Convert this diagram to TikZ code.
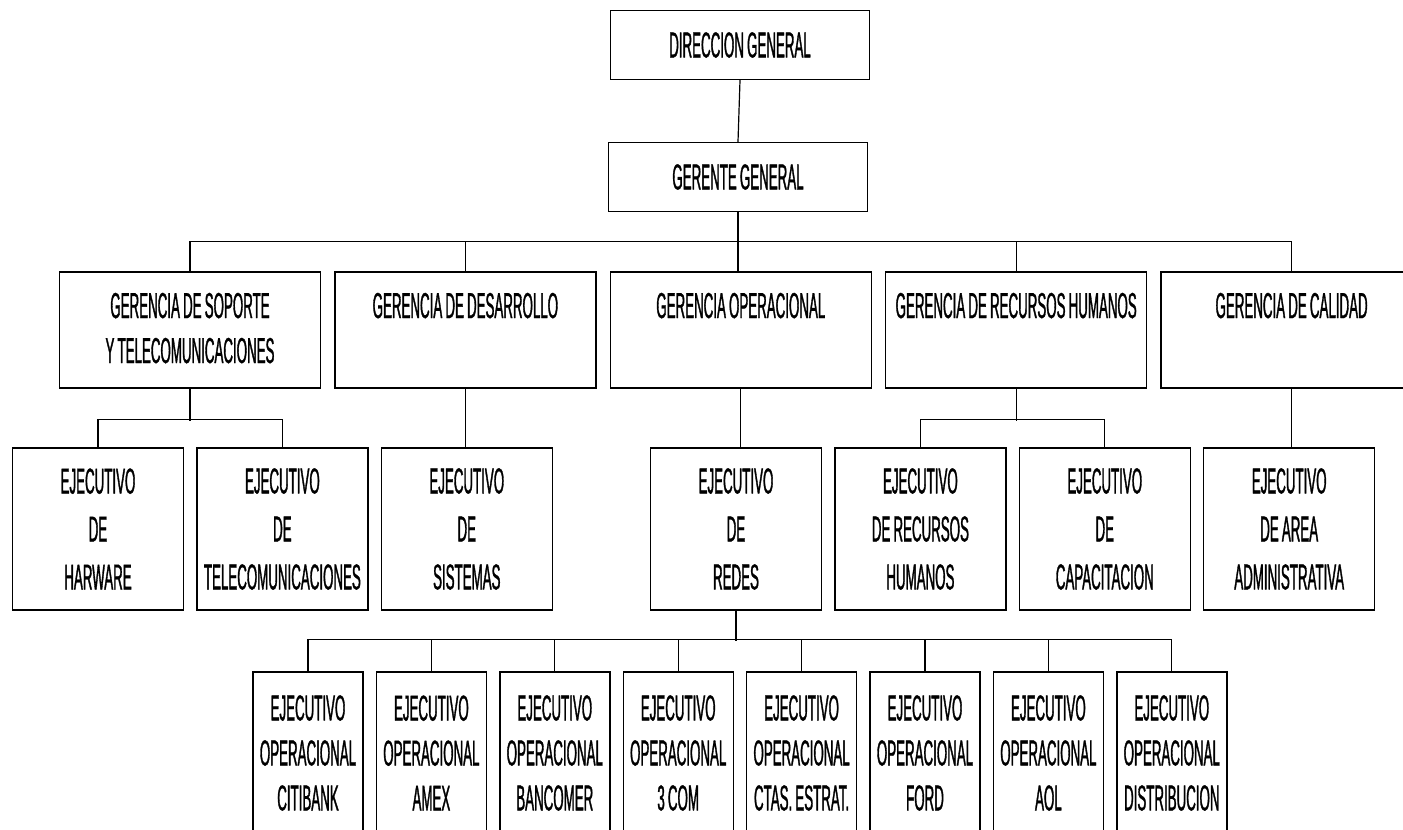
\documentclass[tikz,border=0pt]{standalone}
\usepackage{fontspec}
\setmainfont{Liberation Sans}[FakeStretch=0.37, FakeBold=0.9, WordSpace=0.85]
\usepackage{tikz}
\usetikzlibrary{positioning}
\tikzset{
  topbox/.style ={draw, rectangle, line width=1.4pt, minimum width=259pt, minimum height=69pt, inner sep=0pt, align=center, font=\fontsize{36}{45}\selectfont},
  gerbox/.style ={draw, rectangle, line width=1.4pt, minimum width=261pt, text width=258pt, inner xsep=1.5pt, inner ysep=0pt, text height=46pt, text depth=70pt, align=flush center, font=\fontsize{36}{45}\selectfont},
  ejebox/.style ={draw, rectangle, line width=1.4pt, minimum width=171pt, minimum height=162pt, inner sep=0pt, align=center, font=\fontsize{36}{48}\selectfont},
  opbox/.style  ={draw, rectangle, line width=1.4pt, minimum width=110pt, minimum height=162pt, inner sep=0pt, align=center, font=\fontsize{36}{45}\selectfont},
  conn/.style   ={line width=1.2pt},
}
\begin{document}
\begin{tikzpicture}[x=1pt, y=-1pt, node distance=12pt]
  \useasboundingbox (0,0) rectangle (1403,830);
  \clip (0,0) rectangle (1403,830);

  % direccion y gerente
  \node[topbox] (dir) at (740,45)  {DIRECCION GENERAL};
  \node[topbox] (gg)  at (738,177) {GERENTE GENERAL};

  % gerencias
  \node[gerbox] (g1) at (190,330) {GERENCIA DE SOPORTE\\Y TELECOMUNICACIONES};
  \node[gerbox, right=13pt of g1] (g2) {GERENCIA DE DESARROLLO};
  \node[gerbox, right=13pt of g2] (g3) {GERENCIA OPERACIONAL};
  \node[gerbox, right=13pt of g3] (g4) {GERENCIA DE RECURSOS HUMANOS};
  \node[gerbox, right=13pt of g4] (g5) {GERENCIA DE CALIDAD};

  % ejecutivos
  \node[ejebox] (e1) at (98,529) {EJECUTIVO\\DE\\HARWARE};
  \node[ejebox, right=of e1] (e2) {EJECUTIVO\\DE\\TELECOMUNICACIONES};
  \node[ejebox, right=of e2] (e3) {EJECUTIVO\\DE\\SISTEMAS};
  \node[ejebox] (e4) at (736,529) {EJECUTIVO\\DE\\REDES};
  \node[ejebox, right=of e4] (e5) {EJECUTIVO\\DE RECURSOS\\HUMANOS};
  \node[ejebox, right=of e5] (e6) {EJECUTIVO\\DE\\CAPACITACION};
  \node[ejebox, right=of e6] (e7) {EJECUTIVO\\DE AREA\\ADMINISTRATIVA};

  % ejecutivos operacionales
  \node[opbox] (o1) at (308,753) {EJECUTIVO\\OPERACIONAL\\CITIBANK};
  \node[opbox, right=of o1] (o2) {EJECUTIVO\\OPERACIONAL\\AMEX};
  \node[opbox, right=of o2] (o3) {EJECUTIVO\\OPERACIONAL\\BANCOMER};
  \node[opbox, right=of o3] (o4) {EJECUTIVO\\OPERACIONAL\\3 COM};
  \node[opbox, right=of o4] (o5) {EJECUTIVO\\OPERACIONAL\\CTAS. ESTRAT.};
  \node[opbox, right=of o5] (o6) {EJECUTIVO\\OPERACIONAL\\FORD};
  \node[opbox, right=of o6] (o7) {EJECUTIVO\\OPERACIONAL\\AOL};
  \node[opbox, right=of o7] (o8) {EJECUTIVO\\OPERACIONAL\\DISTRIBUCION};

  \draw[conn] (dir.south) -- (gg.north);
  \draw[conn] (gg.south) -- (gg.south |- g3.north);
  \draw[conn] (g1.north) -- ++(0,-30) -| (g5.north);
  \draw[conn] (g2.north) -- ++(0,-30);
  \draw[conn] (g4.north) -- ++(0,-30);

  \draw[conn] (g1.south) -- ++(0,32);
  \draw[conn] (e1.north) -- ++(0,-28) -| (e2.north);
  \draw[conn] (g2.south) -- (g2.south |- e3.north);
  \draw[conn] (e4.north -| g3.south) -- (g3.south);
  \draw[conn] (g4.south) -- ++(0,32);
  \draw[conn] (e5.north) -- ++(0,-28) -| (e6.north);
  \draw[conn] (g5.south) -- (g5.south |- e7.north);

  \draw[conn] (e4.south) -- ++(0,30);
  \draw[conn] (o1.north) -- ++(0,-32) -| (o8.north);
  \draw[conn] (o2.north) -- ++(0,-32);
  \draw[conn] (o3.north) -- ++(0,-32);
  \draw[conn] (o4.north) -- ++(0,-32);
  \draw[conn] (o5.north) -- ++(0,-32);
  \draw[conn] (o6.north) -- ++(0,-32);
  \draw[conn] (o7.north) -- ++(0,-32);
\end{tikzpicture}
\end{document}
